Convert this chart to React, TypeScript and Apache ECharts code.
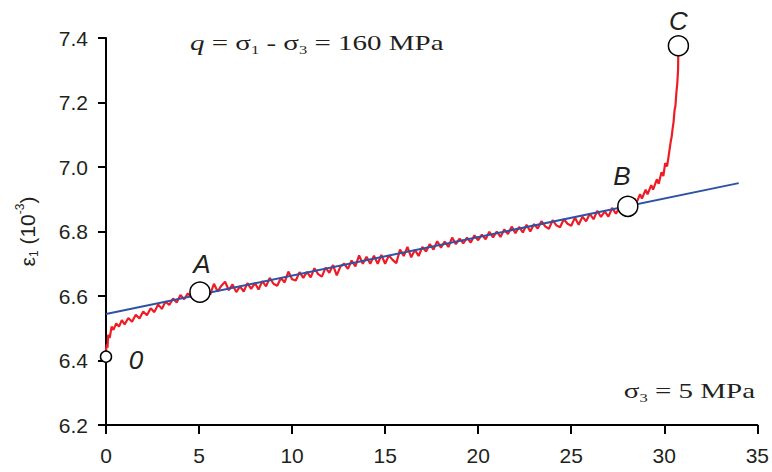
import React, { useEffect, useRef } from "react";
import * as echarts from "echarts";

// ---- data ----
const xTickValues = [0, 5, 10, 15, 20, 25, 30, 35];
const yTickValues = [6.2, 6.4, 6.6, 6.8, 7.0, 7.2, 7.4];

// measured strain curve epsilon_1 (10^-3) vs time
const strainCurve: [number, number][] = [
  [0, 6.43], [0.04, 6.45], [0.08, 6.44], [0.12, 6.48], [0.2, 6.47], [0.3, 6.505], [0.4, 6.495],
  [0.55, 6.515], [0.7, 6.505], [0.85, 6.525], [1.0, 6.512], [1.2, 6.532], [1.4, 6.52], [1.6, 6.542],
  [1.8, 6.53], [2.0, 6.552], [2.2, 6.54], [2.4, 6.562], [2.6, 6.55], [2.8, 6.574], [3.0, 6.56],
  [3.2, 6.583], [3.4, 6.572], [3.6, 6.592], [3.8, 6.58], [4.0, 6.603], [4.2, 6.59], [4.4, 6.608],
  [4.6, 6.596], [4.8, 6.614], [5.0, 6.602],
  [5.2, 6.6], [5.4, 6.62], [5.6, 6.604], [5.8, 6.638], [6.0, 6.614], [6.2, 6.632], [6.4, 6.644],
  [6.6, 6.618], [6.8, 6.636], [7.0, 6.612], [7.2, 6.63], [7.4, 6.614], [7.6, 6.64], [7.8, 6.622],
  [8.0, 6.64], [8.2, 6.62], [8.4, 6.646], [8.6, 6.63], [8.8, 6.656], [9.0, 6.638], [9.2, 6.632],
  [9.4, 6.656], [9.6, 6.642], [9.8, 6.676], [10.0, 6.652], [10.2, 6.648], [10.4, 6.674], [10.6, 6.656],
  [10.8, 6.675], [11.0, 6.658], [11.2, 6.686], [11.4, 6.668], [11.6, 6.66], [11.8, 6.688], [12.0, 6.672],
  [12.2, 6.696], [12.4, 6.664], [12.6, 6.692], [12.8, 6.7], [13.0, 6.684], [13.2, 6.71], [13.4, 6.692],
  [13.6, 6.726], [13.8, 6.7], [14.0, 6.722], [14.2, 6.7], [14.4, 6.725], [14.6, 6.7], [14.8, 6.727],
  [15.0, 6.7], [15.2, 6.726], [15.4, 6.712], [15.6, 6.702], [15.8, 6.744], [16.0, 6.724], [16.2, 6.752],
  [16.4, 6.72], [16.6, 6.743], [16.8, 6.724], [17.0, 6.752], [17.2, 6.738], [17.4, 6.761], [17.6, 6.744],
  [17.8, 6.77], [18.0, 6.75], [18.2, 6.769], [18.4, 6.752], [18.6, 6.781], [18.8, 6.761], [19.0, 6.778],
  [19.2, 6.763], [19.4, 6.781], [19.6, 6.766], [19.8, 6.788], [20.0, 6.773], [20.2, 6.79], [20.4, 6.776],
  [20.6, 6.799], [20.8, 6.782], [21.0, 6.8], [21.2, 6.783], [21.4, 6.806], [21.6, 6.792], [21.8, 6.815],
  [22.0, 6.795], [22.2, 6.814], [22.4, 6.797], [22.6, 6.821], [22.8, 6.8], [23.0, 6.823], [23.2, 6.809],
  [23.4, 6.832], [23.6, 6.816], [23.8, 6.808], [24.0, 6.835], [24.2, 6.819], [24.4, 6.813], [24.6, 6.838],
  [24.8, 6.824], [25.0, 6.818], [25.2, 6.843], [25.4, 6.821], [25.6, 6.846], [25.8, 6.832], [26.0, 6.855],
  [26.2, 6.838], [26.4, 6.864], [26.6, 6.845], [26.8, 6.862], [27.0, 6.846], [27.2, 6.873], [27.4, 6.855],
  [27.6, 6.874], [27.8, 6.857], [28.0, 6.878],
  [28.2, 6.885], [28.4, 6.902], [28.5, 6.888], [28.7, 6.916], [28.8, 6.902], [29.0, 6.93], [29.1, 6.915],
  [29.3, 6.944], [29.4, 6.93], [29.6, 6.962], [29.7, 6.948], [29.85, 6.984], [29.95, 6.972], [30.05, 7.012],
  [30.15, 7.002], [30.25, 7.04], [30.3, 7.06], [30.35, 7.08], [30.4, 7.095], [30.45, 7.12], [30.5, 7.14],
  [30.55, 7.175], [30.6, 7.19], [30.65, 7.23], [30.7, 7.26], [30.74, 7.3], [30.76, 7.375],
];

// linear fit of the secondary creep stage
const fitX = [0, 34];
const fitY = [6.544, 6.95];

// marked points
const pointNames = ["0", "A", "B", "C"];
const pointX = [0, 5.05, 28.04, 30.76];
const pointY = [6.412, 6.612, 6.878, 7.376];

const INK = "#231f20";
const SANS = "Liberation Sans, Arial, sans-serif";
const SERIF = "Liberation Serif, Times New Roman, serif";

export default function App() {
  const ref = useRef<HTMLDivElement>(null);

  useEffect(() => {
    if (!ref.current) return;
    const chart = echarts.init(ref.current, undefined, { renderer: "svg" });

    const pointSizes = [11, 20, 20, 20];
    const labelOffsets: [number, number][] = [[30, 3], [2, -28], [-6, -30], [0, -25]];

    const pointData = pointNames.map((n, i) => ({
      name: n,
      value: [pointX[i], pointY[i]],
      symbolSize: pointSizes[i],
      label: {
        show: true,
        formatter: n,
        position: "inside",
        offset: labelOffsets[i],
        fontSize: 26,
        fontStyle: "italic",
        fontFamily: SANS,
        color: INK,
      },
    }));

    const serifRich = {
      q: { fontSize: 21, fontFamily: SERIF, fontStyle: "italic", fill: INK, lineHeight: 26 },
      n: { fontSize: 21, fontFamily: SERIF, fill: INK, lineHeight: 26 },
      s: { fontSize: 12, fontFamily: SERIF, fill: INK, lineHeight: 26, verticalAlign: "bottom" },
    };

    chart.setOption({
      animation: false,
      backgroundColor: "#ffffff",
      grid: { left: 106, right: 14, top: 38, bottom: 47, containLabel: false },
      xAxis: {
        type: "value",
        min: xTickValues[0],
        max: xTickValues[xTickValues.length - 1],
        interval: 5,
        axisLine: { show: true, lineStyle: { color: "#000", width: 2 } },
        axisTick: { show: true, length: 9, lineStyle: { color: "#000", width: 2 } },
        axisLabel: { color: INK, fontSize: 21, fontFamily: SANS, margin: 20 },
        splitLine: { show: false },
      },
      yAxis: {
        type: "value",
        min: yTickValues[0],
        max: yTickValues[yTickValues.length - 1],
        interval: 0.2,
        axisLine: { show: true, lineStyle: { color: "#000", width: 2 } },
        axisTick: { show: true, length: 8, lineStyle: { color: "#000", width: 2 } },
        axisLabel: {
          color: INK,
          fontSize: 21,
          fontFamily: SANS,
          margin: 18,
          formatter: (v: number) => v.toFixed(1),
        },
        splitLine: { show: false },
        name: "{e|ε}{sb|1}{e| (10}{sp|-3}{e|)}",
        nameLocation: "middle",
        nameRotate: 90,
        nameGap: 66,
        nameTextStyle: {
          rich: {
            e: { fontSize: 21, fontFamily: SANS, color: INK, lineHeight: 26 },
            sb: { fontSize: 12, fontFamily: SANS, color: INK, lineHeight: 26, verticalAlign: "bottom" },
            sp: { fontSize: 12, fontFamily: SANS, color: INK, lineHeight: 26, verticalAlign: "top" },
          },
        },
      },
      series: [
        {
          type: "line",
          data: strainCurve,
          showSymbol: false,
          symbol: "none",
          lineStyle: { color: "#ee1c25", width: 2.2 },
          z: 2,
        },
        {
          type: "line",
          data: fitX.map((x, i) => [x, fitY[i]]),
          showSymbol: false,
          symbol: "none",
          lineStyle: { color: "#2f52a5", width: 2 },
          z: 3,
        },
        {
          type: "scatter",
          data: pointData,
          symbol: "circle",
          itemStyle: { color: "#ffffff", borderColor: "#000", borderWidth: 1.5, opacity: 1 },
          z: 5,
        },
      ],
      graphic: [
        {
          type: "text",
          x: 190,
          y: 43,
          scaleX: 1.38,
          style: {
            text: "{q|q}{n| = σ}{s|1}{n| - σ}{s|3}{n| = 160 MPa}",
            rich: serifRich,
            align: "left",
            verticalAlign: "middle",
          },
        },
        {
          type: "text",
          x: 755,
          y: 391,
          scaleX: 1.38,
          style: {
            text: "{n|σ}{s|3}{n| = 5 MPa}",
            rich: serifRich,
            align: "right",
            verticalAlign: "middle",
          },
        },
      ],
    });

    return () => chart.dispose();
  }, []);

  return (
    <div
      ref={ref}
      style={{ position: "fixed", left: 0, top: 0, width: 772, height: 472 }}
    />
  );
}
